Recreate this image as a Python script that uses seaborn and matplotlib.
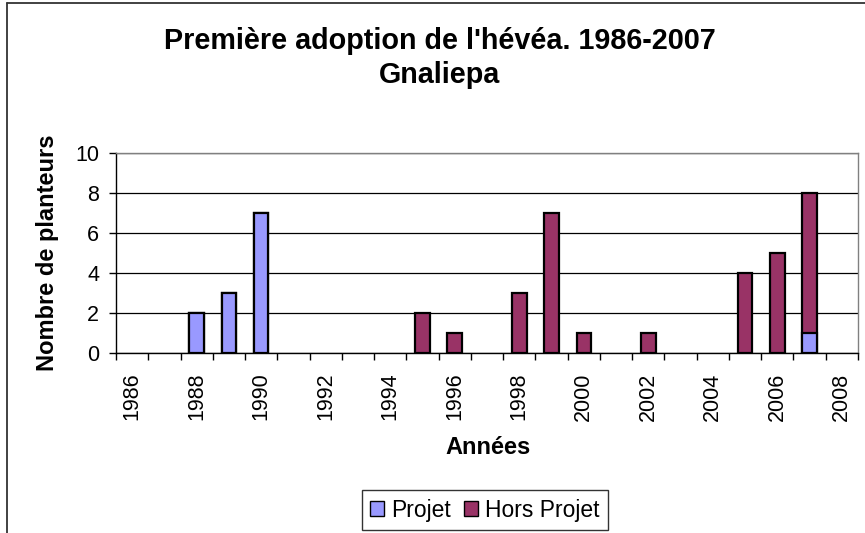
import numpy as np
import pandas as pd
import matplotlib
matplotlib.use("Agg")
import matplotlib.pyplot as plt
import seaborn as sns
from matplotlib.patches import Patch
from matplotlib.lines import Line2D

# ----------------------------- data ----------------------------- #
years = list(range(1986, 2009))
projet = [0, 0, 2, 3, 7, 0, 0, 0, 0, 0, 0, 0, 0, 0, 0, 0, 0, 0, 0, 0, 0, 1, 0]
hors_projet = [0, 0, 0, 0, 0, 0, 0, 0, 0, 2, 1, 0, 3, 7, 1, 0, 1, 0, 0, 4, 5, 7, 0]

col_projet = "#9999FF"
col_hors = "#993366"

df = pd.DataFrame({"Année": [str(y) for y in years], "Projet": projet, "Hors Projet": hors_projet})
df["Total"] = df["Projet"] + df["Hors Projet"]
order = df["Année"].tolist()

sns.set_style("white")
plt.rcParams["font.family"] = ["Liberation Sans", "DejaVu Sans"]
plt.rcParams["text.color"] = "black"
plt.rcParams["axes.labelcolor"] = "black"
plt.rcParams["xtick.color"] = "black"
plt.rcParams["ytick.color"] = "black"

fig = plt.figure(figsize=(8.65, 5.33), dpi=100)
ax = fig.add_axes([116 / 865, 1 - 353 / 533, (858 - 116) / 865, 200 / 533])

# stacked bars: total first (hors projet colour), projet drawn over the bottom part
tot = df[df["Total"] > 0]
sns.barplot(data=tot, x="Année", y="Total", order=order, color=col_hors,
            edgecolor="black", linewidth=1.6, width=0.45, saturation=1, ax=ax, zorder=3)
pj = df[df["Projet"] > 0]
sns.barplot(data=pj, x="Année", y="Projet", order=order, color=col_projet,
            edgecolor="black", linewidth=1.6, width=0.45, saturation=1, ax=ax, zorder=4)

ax.set_xlim(-0.5, len(years) - 0.5)
ax.set_ylim(0, 10)
ax.set_yticks(np.arange(0, 11, 2))
ax.yaxis.grid(True, color="black", linewidth=0.9)
ax.set_axisbelow(True)

ax.set_xticks(range(0, len(years), 2))
ax.set_xticklabels([str(y) for y in years[::2]], rotation=90, fontsize=15.5)
ax.set_xticks(np.arange(-0.5, len(years), 1), minor=True)
ax.tick_params(axis="x", which="major", length=0, pad=14)
ax.tick_params(axis="x", which="minor", length=5, width=1, color="black", bottom=True)
ax.tick_params(axis="y", length=5, width=1, color="black", left=True, labelsize=15.5, pad=7)

for side in ["left", "bottom"]:
    ax.spines[side].set_color("black")
    ax.spines[side].set_linewidth(1)
for side in ["top", "right"]:
    ax.spines[side].set_color("#808080")
    ax.spines[side].set_linewidth(1)

ax.set_xlabel("Années", fontsize=17, fontweight="bold")
ax.xaxis.set_label_coords(0.502, -0.415)
ax.set_ylabel("Nombre de planteurs", fontsize=17, fontweight="bold")
ax.yaxis.set_label_coords(-0.077, 0.5)

fig.text(0.508, 1 - 58 / 533, "Première adoption de l'hévéa. 1986-2007\nGnaliepa",
         ha="center", va="center", fontsize=20.7, fontweight="bold", linespacing=1.3)

handles = [Patch(facecolor=col_projet, edgecolor="black", label="Projet"),
           Patch(facecolor=col_hors, edgecolor="black", label="Hors Projet")]
fig.legend(handles=handles, loc="center", bbox_to_anchor=(485 / 865, 1 - 510 / 533), ncol=2,
           fontsize=16.5, frameon=True, fancybox=False, edgecolor="black",
           handlelength=0.6, handleheight=0.6, handletextpad=0.3, columnspacing=0.6,
           borderpad=0.35)

# chart frame (only top and left edges show in the crop)
fx, fy = 7 / 865, 1 - 3 / 533
fig.lines.append(Line2D([fx, 1], [fy, fy], transform=fig.transFigure, color="#333333", linewidth=1.3))
fig.lines.append(Line2D([fx, fx], [0, fy], transform=fig.transFigure, color="#333333", linewidth=1.3))

fig.savefig("out.png", dpi=100)
